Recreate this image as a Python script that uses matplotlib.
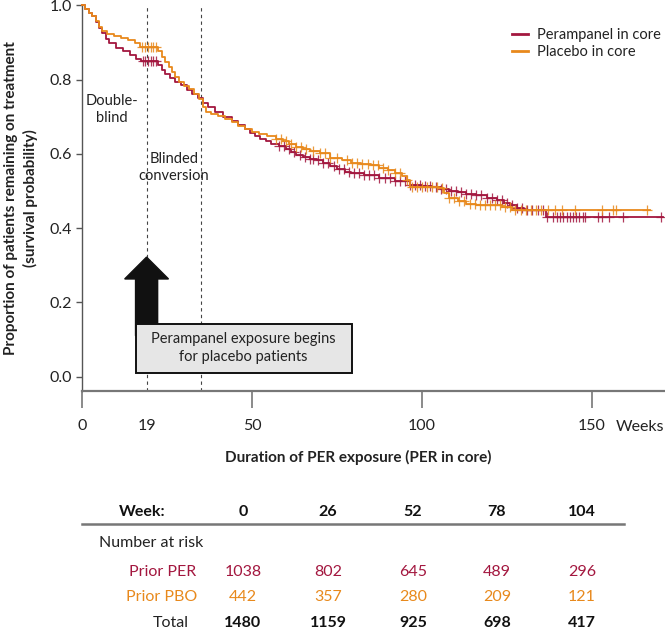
import numpy as np
import matplotlib
matplotlib.use("Agg")
import matplotlib.pyplot as plt
from matplotlib.patches import FancyArrow, Rectangle
from matplotlib.lines import Line2D

plt.rcParams["font.family"] = ["Lato", "DejaVu Sans"]

PER = "#a3173f"
PBO = "#e8891c"

# Kaplan-Meier steps (weeks, survival)
per_t = [0, 1, 2, 3, 4, 5, 6, 7, 8, 10, 12, 14, 16, 17.5, 22.4, 23.5, 24.5, 26,
         27.5, 29, 31, 32.5, 34, 35.5, 37, 39, 41.5, 44, 46, 48, 49.5, 51, 52.5,
         54, 55.5, 58, 60, 61.5, 63, 65, 67, 69, 71, 73, 75, 77.5, 79, 83, 87.5,
         92, 96.5, 100, 103, 105.5, 108, 110.5, 113, 116, 119, 122, 124, 126,
         128, 130, 136.5, 171]
per_s = [1.0, 0.99, 0.98, 0.97, 0.955, 0.94, 0.925, 0.91, 0.898, 0.886, 0.876,
         0.866, 0.856, 0.849, 0.838, 0.826, 0.815, 0.805, 0.793, 0.785, 0.772,
         0.762, 0.750, 0.738, 0.726, 0.714, 0.700, 0.688, 0.677, 0.666, 0.655,
         0.647, 0.640, 0.634, 0.627, 0.620, 0.612, 0.604, 0.597, 0.592, 0.587,
         0.583, 0.575, 0.566, 0.558, 0.552, 0.548, 0.544, 0.535, 0.528, 0.517,
         0.513, 0.510, 0.506, 0.501, 0.496, 0.493, 0.489, 0.482, 0.475, 0.468,
         0.461, 0.454, 0.448, 0.430, 0.430]

pbo_t = [0, 1, 2, 3, 4, 5, 6, 7.5, 9.5, 11.5, 13.5, 15.5, 17, 22.5, 23.5, 24.5,
         25.5, 26.5, 27.5, 28.5, 30, 31.5, 33, 34.5, 35.5, 36.5, 38, 40, 42, 44,
         46, 48, 50, 52, 54.5, 57, 59, 61, 63, 65, 67, 70, 73, 76.5, 79, 82, 85,
         87.5, 90, 92, 94, 95.5, 96.5, 101, 105, 106.5, 108, 110.5, 113, 116,
         123.5, 126.5, 167]
pbo_s = [1.0, 0.99, 0.98, 0.97, 0.957, 0.942, 0.930, 0.922, 0.918, 0.913, 0.906,
         0.898, 0.889, 0.876, 0.862, 0.848, 0.834, 0.820, 0.806, 0.793, 0.784,
         0.775, 0.762, 0.748, 0.725, 0.714, 0.708, 0.702, 0.695, 0.686, 0.676,
         0.666, 0.660, 0.653, 0.647, 0.640, 0.634, 0.627, 0.619, 0.614, 0.607,
         0.601, 0.590, 0.583, 0.575, 0.572, 0.569, 0.562, 0.556, 0.549, 0.540,
         0.530, 0.512, 0.510, 0.507, 0.494, 0.481, 0.472, 0.466, 0.462, 0.457,
         0.450, 0.450]

# censoring times (weeks)
per_cens = [17.8, 18.6, 19.4, 20.2, 21.0, 21.8,
            58, 59.5, 61, 62.5, 64, 65.5, 67, 68, 69.5, 71, 72.5, 74, 75.5, 77,
            78.5, 80, 81.5, 83, 84.5, 86, 87.5, 89, 90.5, 92, 93.5, 95, 96.5, 98,
            99.5, 101, 102.5, 104, 105.5, 107, 108.5, 110, 111.5, 113, 114.5,
            116, 117.5, 119, 120.5, 122, 123.5, 125, 126.5, 128, 129.5, 131,
            132.5, 134, 135.5,
            136.9, 138.6, 139.6, 140.6, 141.6, 142.6, 143.5, 144.5, 145.3, 146.3,
            147.3, 147.9, 151.9, 152.9, 155.1, 159, 170.2]
pbo_cens = [17.6, 18.5, 19.3, 20.2, 21.0, 21.8,
            57, 58.5, 60, 61.5, 63, 64.5, 66, 68, 70, 71.5, 73, 75, 78, 79.5, 81,
            82.5, 84, 85.5, 87, 88.5, 90, 92, 93.5, 95.5, 97, 98.5, 100, 101.5,
            103, 104.5, 106, 108, 109.5, 111, 112.5, 114, 115.5, 117, 118.5, 120,
            121.5, 123, 124.5, 126, 127.5, 129, 130.5, 132, 133.5, 135,
            137.2, 139.1, 141.1, 145, 153.1, 156.1, 157.1, 166.1]

weeks = [0, 26, 52, 78, 104]
risk_per = [1038, 802, 645, 489, 296]
risk_pbo = [442, 357, 280, 209, 121]
risk_tot = [1480, 1159, 925, 698, 417]

W, H = 665, 630
FS = 11.5


def fx(x):
    return x / W


def fy(y):
    return 1 - y / H


def step_at(t, s, c):
    i = np.searchsorted(t, c, side="right") - 1
    return np.asarray(s)[i]


fig = plt.figure(figsize=(W / 100, H / 100), dpi=100)
ax = fig.add_axes([fx(82), fy(391), fx(665) - fx(82), fy(5.3) - fy(391)])
ax.set_xlim(0, 171.5)
ax.set_ylim(-0.0387, 1.0)

for t, s, c, col, lab in [(per_t, per_s, per_cens, PER, "Perampanel in core"),
                          (pbo_t, pbo_s, pbo_cens, PBO, "Placebo in core")]:
    ax.step(t, s, where="post", color=col, lw=1.3, label=lab, clip_on=False, zorder=3)
    ax.plot(c, step_at(t, s, c), ls="none", marker="+", ms=7, mew=0.9,
            color=col, alpha=0.85, zorder=3)

# phase boundaries
for xv in (19, 35):
    ax.axvline(xv, color="#444444", lw=0.8, ls=(0, (3, 3)), zorder=1)

ax.text(8.8, 0.72, "Double-\nblind", ha="center", va="center", fontsize=10.5,
        color="#222222", linespacing=1.3)
ax.text(27.1, 0.563, "Blinded\nconversion", ha="center", va="center",
        fontsize=10.5, color="#222222", linespacing=1.3)

ax.add_patch(FancyArrow(19, 0.11, 0, 0.212, width=6.5, head_width=12.9,
                        head_length=0.059, length_includes_head=True,
                        color="#111111", zorder=4))
ax.add_patch(Rectangle((15.9, 0.0097), 63.5, 0.1318, facecolor="#e6e6e6",
                       edgecolor="#111111", lw=1.4, zorder=5))
ax.text(47.4, 0.077, "Perampanel exposure begins\nfor placebo patients",
        ha="center", va="center", fontsize=10.5, color="#222222", zorder=6,
        linespacing=1.3)

# axes styling
for sp in ("top", "right"):
    ax.spines[sp].set_visible(False)
ax.spines["left"].set_color("#555555")
ax.spines["left"].set_linewidth(1.0)
ax.spines["bottom"].set_color("#777777")
ax.spines["bottom"].set_linewidth(1.6)
ax.set_yticks([0, 0.2, 0.4, 0.6, 0.8, 1.0])
ax.set_yticklabels(["0.0", "0.2", "0.4", "0.6", "0.8", "1.0"])
ax.tick_params(axis="y", length=4, width=1, color="#555555", labelsize=FS,
               labelcolor="#222222", pad=3)
ax.set_xticks([0, 19, 50, 100, 150])
ax.tick_params(axis="x", length=12, width=1.2, color="#777777", labelsize=FS,
               labelcolor="#222222", pad=8)
ax.xaxis.get_major_ticks()[1].tick1line.set_visible(False)
fig.text(fx(616), fy(427), "Weeks", ha="left", va="center", fontsize=FS,
         color="#222222")

fig.text(fx(21), fy(198),
         "Proportion of patients remaining on treatment\n(survival probability)",
         rotation=90, ha="center", va="center", fontsize=11, fontweight="bold",
         color="#222222", linespacing=1.35)
fig.text(fx(358), fy(457), "Duration of PER exposure (PER in core)",
         ha="center", va="center", fontsize=11, fontweight="bold", color="#222222")

leg = ax.legend(loc="upper left", bbox_to_anchor=(fx(512), fy(28)),
                bbox_transform=fig.transFigure, frameon=False, fontsize=10.5,
                handlelength=1.1, handletextpad=0.6, labelspacing=0.2,
                borderpad=0, borderaxespad=0)
for h in leg.get_lines():
    h.set_linewidth(2.0)
for txt in leg.get_texts():
    txt.set_color("#222222")

# number-at-risk table
cols_x = [243, 328, 413, 497, 582]
fig.text(fx(142), fy(512), "Week:", ha="center", va="center", fontsize=FS,
         fontweight="bold", color="#111111")
for x, wk in zip(cols_x, weeks):
    fig.text(fx(x), fy(512), str(wk), ha="center", va="center", fontsize=FS,
             fontweight="bold", color="#111111")
fig.add_artist(Line2D([fx(82), fx(624)], [fy(524), fy(524)], color="#777777",
                      lw=1.8, transform=fig.transFigure))
fig.text(fx(99), fy(543), "Number at risk", ha="left", va="center",
         fontsize=FS, color="#222222")
rows = [("Prior PER", risk_per, PER, "normal", 196, 572),
        ("Prior PBO", risk_pbo, PBO, "normal", 197, 597),
        ("Total", risk_tot, "#111111", "bold", 189, 623)]
for name, vals, col, wt, xr, y in rows:
    fig.text(fx(xr), fy(y), name, ha="right", va="center", fontsize=FS,
             color=col if wt == "normal" else "#222222")
    for x, v in zip(cols_x, vals):
        fig.text(fx(x), fy(y), str(v), ha="center", va="center", fontsize=FS,
                 color=col, fontweight=wt)

fig.savefig("out.png", dpi=100)
